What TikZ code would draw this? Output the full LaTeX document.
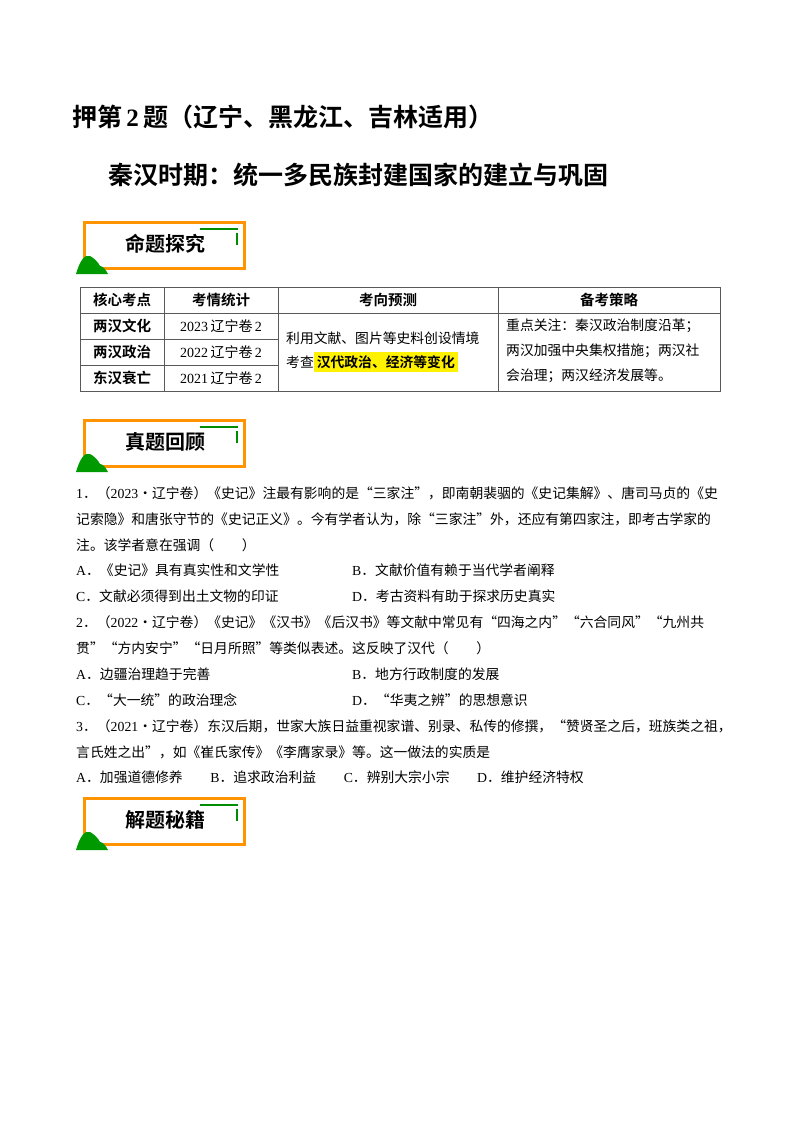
\documentclass[tikz,border=0pt]{standalone}
\usepackage{fontspec}
\setmainfont{Noto Sans CJK SC}
\newfontfamily\cjkb{Noto Sans CJK SC Bold}
\newfontfamily\lat{Liberation Serif}
\begin{document}
\begin{tikzpicture}[x=1pt,y=-1pt,
  body/.style={anchor=west,inner sep=0,font=\fontsize{13.8}{16}\selectfont},
  tb/.style={inner sep=0,font=\fontsize{14}{16}\selectfont},
  th/.style={inner sep=0,font=\cjkb\fontsize{14.5}{16}\selectfont}]
\useasboundingbox[fill=white] (0,0) rectangle (800,1132);
\node[anchor=west,inner sep=0,font=\cjkb\fontsize{25}{30}\selectfont] (t1) at (72,117) {押第\,{\lat\bfseries 2}\,题（辽宁、黑龙江、吉林适用）};
\node[anchor=west,inner sep=0,font=\cjkb\fontsize{25}{30}\selectfont] (t2) at (108,175) {秦汉时期：统一多民族封建国家的建立与巩固};
% badges
\foreach \y/\txt/\n in {222/命题探究/b1,420/真题回顾/b2,798/解题秘籍/b3}{
  \draw[orange!85!yellow,line width=3] (84,\y) rectangle (244,\y+46);
  \draw[green!55!black,line width=1.2] (200,\y+7) -- (238,\y+7);
  \draw[green!55!black,line width=1.2] (237,\y+11) -- (237,\y+23);
  \fill[green!60!black] (76,\y+52) .. controls (80,\y+38) and (85,\y+32) .. (90,\y+34) .. controls (94,\y+36) and (98,\y+40) .. (100,\y+44) .. controls (103,\y+44) and (106,\y+48) .. (108,\y+52) -- cycle;
  \node[inner sep=0,font=\cjkb\fontsize{20}{22}\selectfont] (\n) at (165,\y+22) {\txt};
}
% table
\draw[gray!70!black,line width=0.8] (80,287) rectangle (720,391);
\foreach \x in {164,278,498} \draw[gray!70!black,line width=0.8] (\x,287) -- (\x,391);
\draw[gray!70!black,line width=0.8] (80,313) -- (720,313);
\draw[gray!70!black,line width=0.8] (80,339) -- (278,339);
\draw[gray!70!black,line width=0.8] (80,365) -- (278,365);
\node[th] (h1) at (122,300) {核心考点};
\node[th] (h2) at (221,300) {考情统计};
\node[th] (h3) at (388,300) {考向预测};
\node[th] (h4) at (609,300) {备考策略};
\node[th] (r1) at (122,326) {两汉文化};
\node[th] (r2) at (122,352) {两汉政治};
\node[th] (r3) at (122,378) {东汉衰亡};
\node[tb] (s1) at (221,326) {{\lat 2023}\,辽宁卷\,{\lat 2}};
\node[tb] (s2) at (221,352) {{\lat 2022}\,辽宁卷\,{\lat 2}};
\node[tb] (s3) at (221,378) {{\lat 2021}\,辽宁卷\,{\lat 2}};
\node[body] (p1) at (286,338) {利用文献、图片等史料创设情境};
\node[body] (p2) at (286,362) {考查\colorbox{yellow}{\cjkb 汉代政治、经济等变化}};
\node[body] (c1) at (506,326) {重点关注：秦汉政治制度沿革；};
\node[body] (c2) at (506,351) {两汉加强中央集权措施；两汉社};
\node[body] (c3) at (506,376) {会治理；两汉经济发展等。};
% questions
\node[body] (q1a) at (76,493) {{\lat 1}．（{\lat 2023}·辽宁卷）《史记》注最有影响的是“三家注”，即南朝裴骃的《史记集解》、唐司马贞的《史};
\node[body] (q1b) at (76,519) {记索隐》和唐张守节的《史记正义》。今有学者认为，除“三家注”外，还应有第四家注，即考古学家的};
\node[body] (q1c) at (76,545) {注。该学者意在强调（\qquad）};
\node[body] (q1A) at (76,570) {{\lat A}．《史记》具有真实性和文学性};
\node[body] (q1B) at (352,570) {{\lat B}．文献价值有赖于当代学者阐释};
\node[body] (q1C) at (76,596) {{\lat C}．文献必须得到出土文物的印证};
\node[body] (q1D) at (352,596) {{\lat D}．考古资料有助于探求历史真实};
\node[body] (q2a) at (76,622) {{\lat 2}．（{\lat 2022}·辽宁卷）《史记》《汉书》《后汉书》等文献中常见有“四海之内”“六合同风”“九州共};
\node[body] (q2b) at (76,648) {贯”“方内安宁”“日月所照”等类似表述。这反映了汉代（\qquad）};
\node[body] (q2A) at (76,674) {{\lat A}．边疆治理趋于完善};
\node[body] (q2B) at (352,674) {{\lat B}．地方行政制度的发展};
\node[body] (q2C) at (76,700) {{\lat C}．“大一统”的政治理念};
\node[body] (q2D) at (352,700) {{\lat D}．“华夷之辨”的思想意识};
\node[body] (q3a) at (76,726) {{\lat 3}．（{\lat 2021}·辽宁卷）东汉后期，世家大族日益重视家谱、别录、私传的修撰，“赞贤圣之后，班族类之祖，};
\node[body] (q3b) at (76,752) {言氏姓之出”，如《崔氏家传》《李膺家录》等。这一做法的实质是};
\node[body] (q3c) at (76,777) {{\lat A}．加强道德修养\qquad{\lat B}．追求政治利益\qquad{\lat C}．辨别大宗小宗\qquad{\lat D}．维护经济特权};
\end{tikzpicture}
\end{document}
